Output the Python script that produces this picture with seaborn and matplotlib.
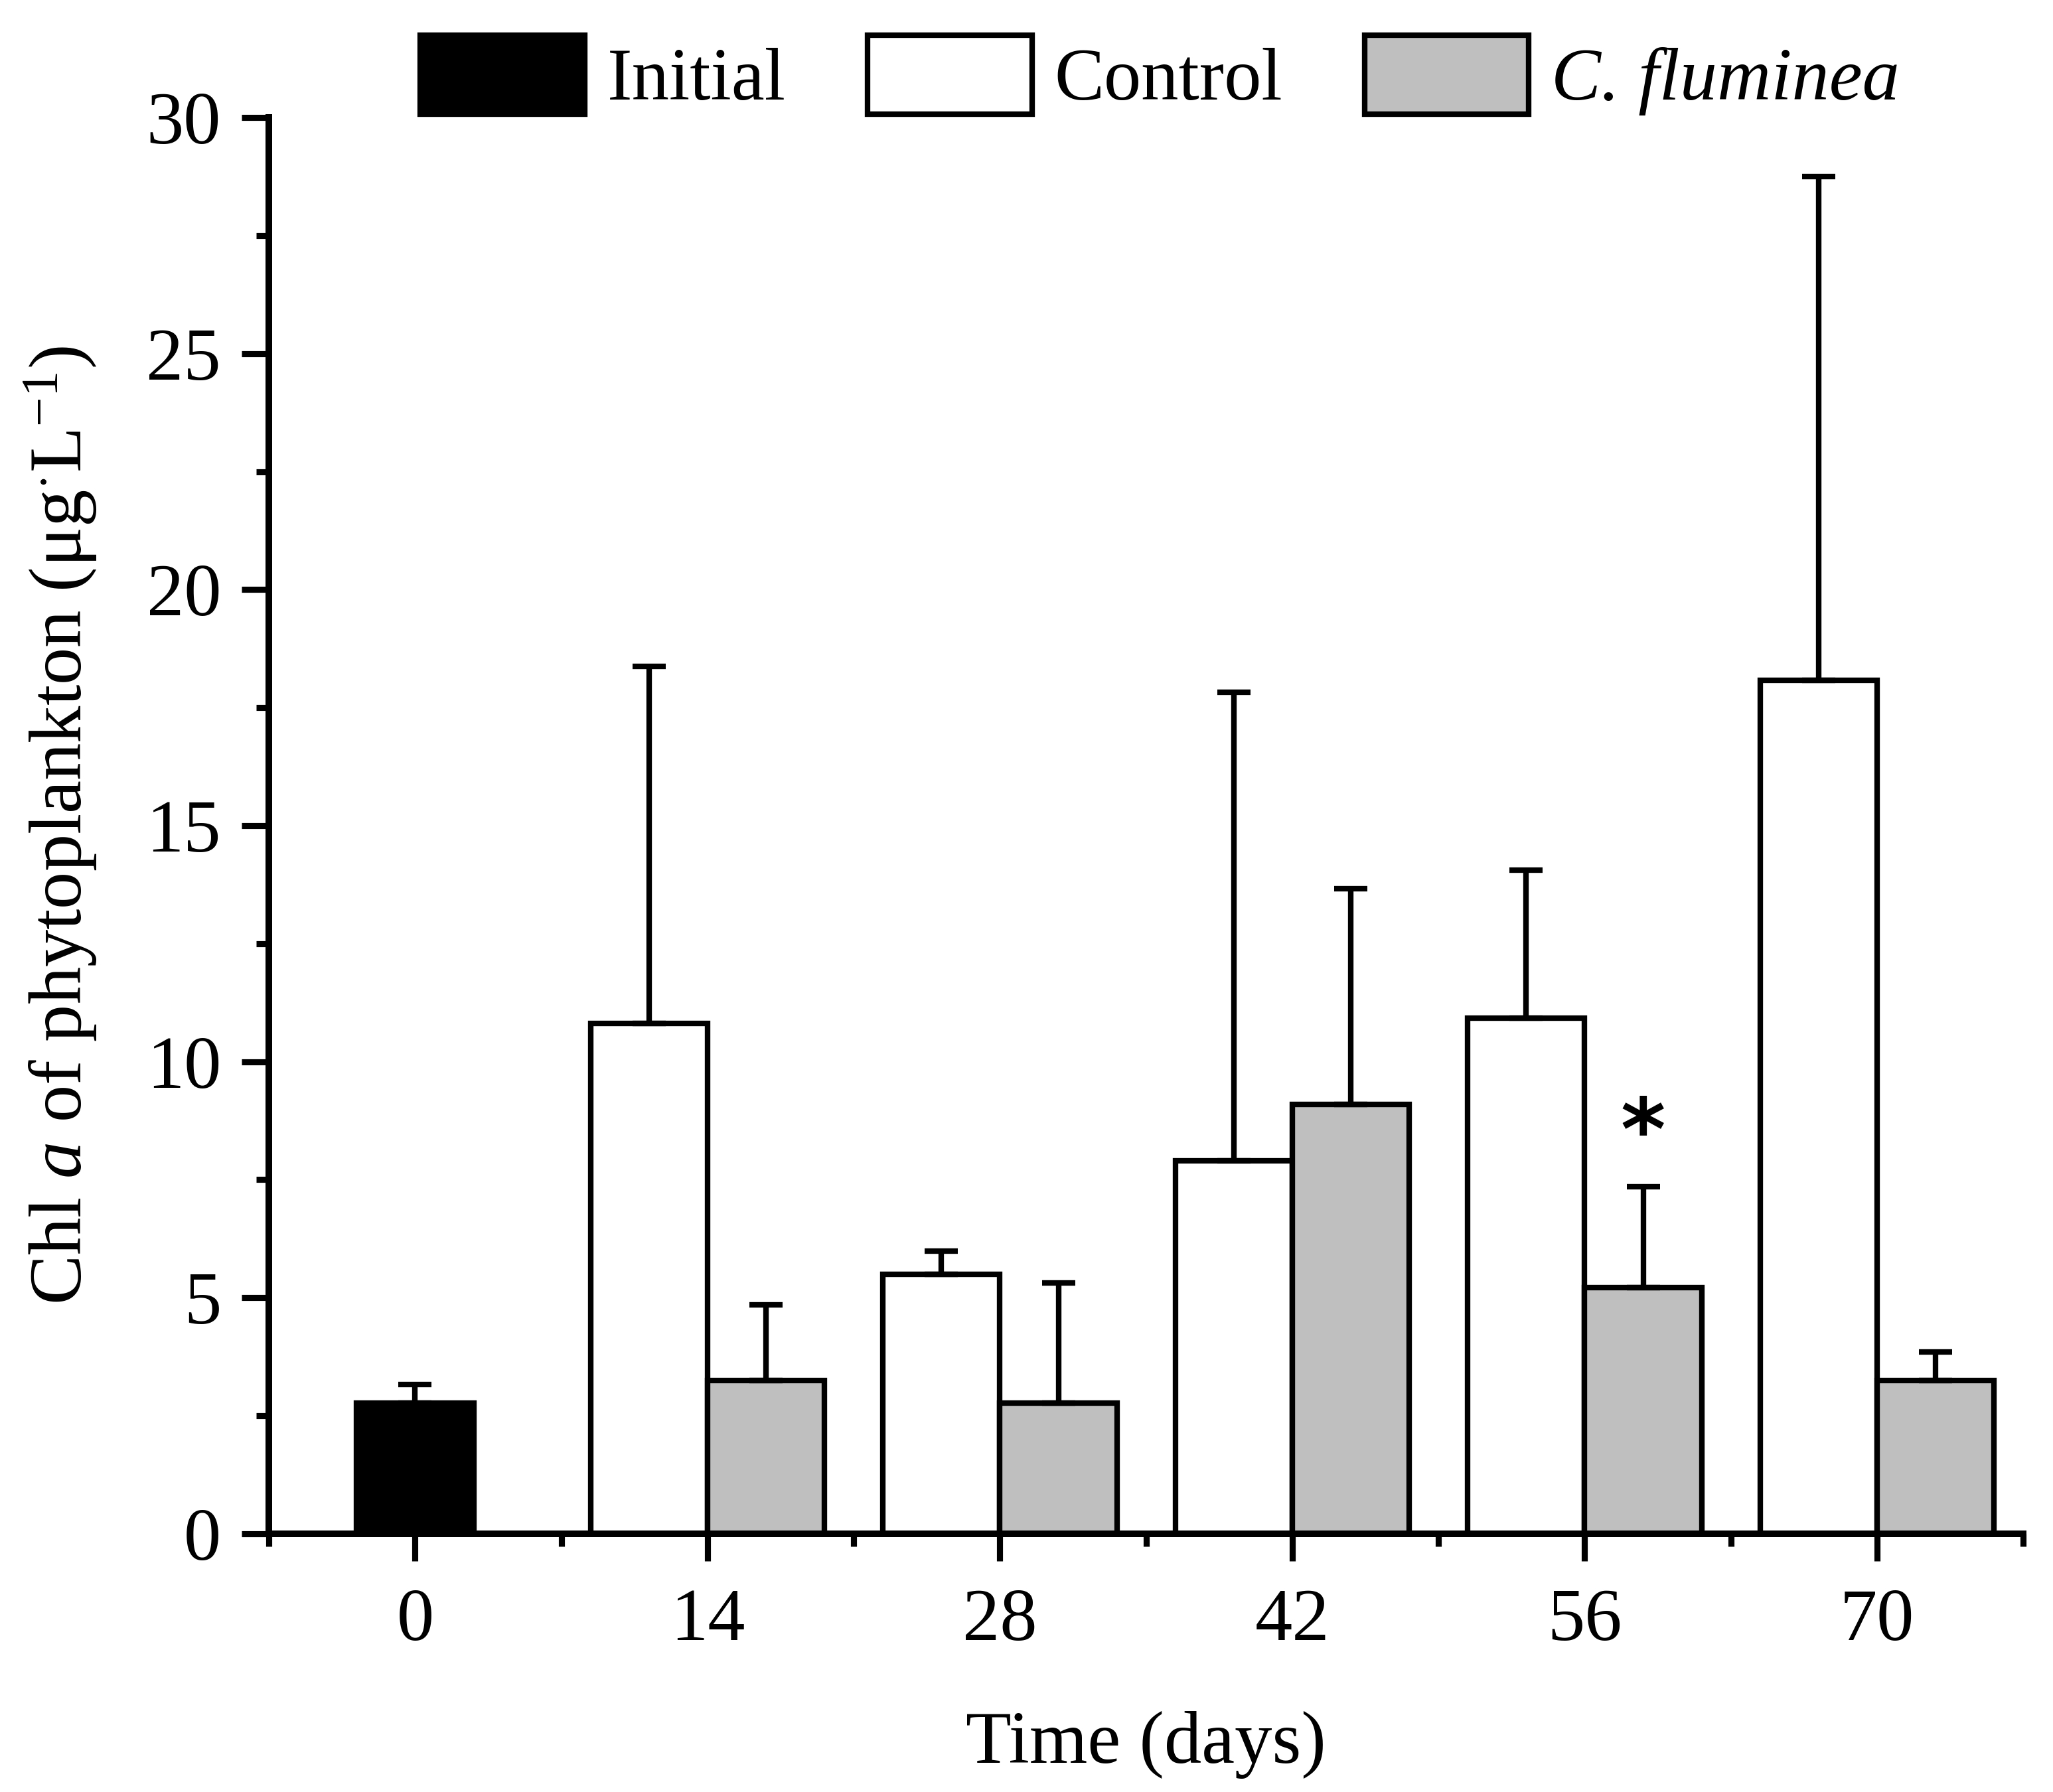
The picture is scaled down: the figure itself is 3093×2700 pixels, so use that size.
import pandas as pd
import matplotlib
matplotlib.use('Agg')
import matplotlib.pyplot as plt
import seaborn as sns
from matplotlib.ticker import FixedLocator, MultipleLocator

# values (mean and upper SD)
days = ['0', '14', '28', '42', '56', '70']
treat_days = ['14', '28', '42', '56', '70']
initial_mean = [2.77]
initial_sd = [0.39]
control_mean = [10.81, 5.49, 7.90, 10.92, 18.08]
control_sd = [7.57, 0.50, 9.93, 3.14, 10.67]
clam_mean = [3.24, 2.77, 9.09, 5.21, 3.24]
clam_sd = [1.61, 2.55, 4.58, 2.14, 0.61]
groups = ['Control', 'C. fluminea']

sns.set_style('ticks')
plt.rcParams['font.family'] = ['Liberation Serif', 'DejaVu Serif']
plt.rcParams['mathtext.fontset'] = 'custom'
plt.rcParams['mathtext.rm'] = 'Liberation Serif'
plt.rcParams['mathtext.it'] = 'Liberation Serif:italic'
for k in ['text.color', 'axes.labelcolor', 'axes.edgecolor', 'xtick.color', 'ytick.color']:
    plt.rcParams[k] = 'black'

treat = pd.DataFrame({
    'day': treat_days * 2,
    'group': [groups[0]] * 5 + [groups[1]] * 5,
    'mean': control_mean + clam_mean,
})
init = pd.DataFrame({'day': ['0'], 'mean': initial_mean})

fig = plt.figure(figsize=(10.31, 9), dpi=300)
ax = fig.add_axes([0.131, 0.1441, 0.9855 - 0.131, 0.9344 - 0.1441])

lw = 2.0
sns.barplot(data=treat, x='day', y='mean', hue='group', order=days,
            hue_order=groups, palette=['white', '#bfbfbf'], width=0.8,
            edgecolor='black', linewidth=lw, errorbar=None, legend=False, ax=ax)
sns.barplot(data=init, x='day', y='mean', order=days, color='black',
            width=0.4, edgecolor='black', linewidth=lw, errorbar=None, ax=ax)

sds = [control_sd, clam_sd, initial_sd]
for cont, sd in zip(ax.containers, sds):
    xs = [b.get_x() + b.get_width() / 2 for b in cont]
    hs = [b.get_height() for b in cont]
    ax.errorbar(xs, hs, yerr=[[0] * len(sd), sd], fmt='none', ecolor='black',
                elinewidth=lw, capsize=6, capthick=lw, zorder=1)

# significance mark above C. fluminea at day 56
b56 = ax.containers[1][3]
ax.text(b56.get_x() + b56.get_width() / 2, clam_mean[3] + clam_sd[3] + 0.2, '*',
        ha='center', va='bottom', fontsize=31, fontweight='bold',
        family='DejaVu Sans')

ax.set_xlim(-0.5, 5.5)
ax.set_ylim(0, 30)
ax.yaxis.set_major_locator(MultipleLocator(5))
ax.yaxis.set_minor_locator(MultipleLocator(2.5))
ax.xaxis.set_minor_locator(FixedLocator([i - 0.5 for i in range(7)]))

for s in ['top', 'right']:
    ax.spines[s].set_visible(False)
for s in ['left', 'bottom']:
    ax.spines[s].set_linewidth(2.4)
ax.tick_params(axis='both', which='major', direction='out', length=9.8,
               width=2.2, labelsize=27)
ax.tick_params(axis='both', which='minor', direction='out', length=4.5, width=2.2)
ax.tick_params(axis='x', which='major', pad=10)
ax.tick_params(axis='y', which='major', pad=7.5)

ax.set_xlabel('Time (days)', fontsize=27)
ax.set_ylabel(r'Chl $\it{a}$ of phytoplankton (μg$^{\cdot}$L$^{-1}$)', fontsize=27)
ax.xaxis.set_label_coords(0.5, -0.125)
ax.yaxis.set_label_coords(-0.097, 0.5)

handles = [ax.containers[2][0], ax.containers[0][0], ax.containers[1][0]]
leg = fig.legend(handles, ['Initial', 'Control', 'C. fluminea'], loc='center',
                 bbox_to_anchor=(0.565, 0.958), ncol=3, frameon=False,
                 fontsize=27, handlelength=2.2, handleheight=1.25,
                 handletextpad=0.3, columnspacing=1.1)
leg.get_texts()[2].set_style('italic')

fig.savefig('out.png', dpi=300)
